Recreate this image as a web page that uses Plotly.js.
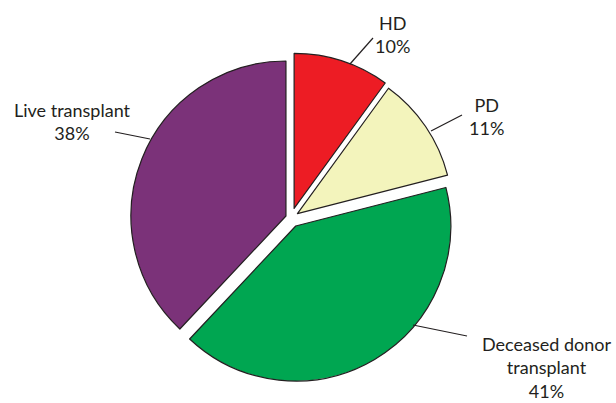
<!DOCTYPE html>
<html>
<head>
<meta charset="utf-8">
<script src="https://cdn.plot.ly/plotly-3.0.1.min.js"></script>
<style>html,body{margin:0;padding:0;background:#fff;}#chart{width:616px;height:403px;}</style>
</head>
<body>
<div id="chart"></div>
<script>
// ---- data ----
var categories = ['HD', 'PD', 'Deceased donor transplant', 'Live transplant'];
var percentValues = [10, 11, 41, 38];
var sliceColors = ['#ED1C24', '#F3F4BC', '#00A651', '#7B3279'];

// ---- layout helpers ----
var W = 616, H = 403;
function px(x) { return x / W; }
function py(y) { return 1 - y / H; }

// pie geometry (pixels)
var cx = 291, cy = 218, r = 155;
var pulls = [0.065, 0.05, 0.06, 0.035];
var maxPull = Math.max.apply(null, pulls);
var rd = r * (1 + maxPull);
var domain = {
  x: [(cx - rd) / W, (cx + rd) / W],
  y: [1 - (cy + rd) / H, 1 - (cy - rd) / H]
};

// label placement (layout only): text-block centre and leader line ends, in px
var labelPos = [
  {x: 392.5, y: 34.5, l: [[373, 38], [350, 64]]},
  {x: 486.5, y: 116, l: [[462, 115], [431, 131]]},
  {x: 546, y: 367, l: [[467, 336], [413, 325]]},
  {x: 72, y: 121, l: [[115, 132], [150, 139]]}
];
var wrapAt = {'Deceased donor transplant': 'Deceased donor<br>transplant'};

var textColor = '#231F20';
var fontFam = 'Lato, "Open Sans", sans-serif';

var annotations = [];
var shapes = [];
categories.forEach(function (c, i) {
  var p = labelPos[i];
  annotations.push({
    xref: 'paper', yref: 'paper',
    x: px(p.x), y: py(p.y),
    xanchor: 'center', yanchor: 'middle',
    align: 'center',
    showarrow: false,
    text: (wrapAt[c] || c) + '<br>' + percentValues[i] + '%',
    font: {family: fontFam, size: 18, color: textColor}
  });
  shapes.push({
    type: 'line', xref: 'paper', yref: 'paper',
    x0: px(p.l[0][0]), y0: py(p.l[0][1]),
    x1: px(p.l[1][0]), y1: py(p.l[1][1]),
    line: {color: textColor, width: 1.2}
  });
});

var trace = {
  type: 'pie',
  labels: categories,
  values: percentValues,
  sort: false,
  direction: 'clockwise',
  rotation: 0,
  pull: pulls,
  textinfo: 'none',
  hoverinfo: 'label+percent',
  showlegend: false,
  domain: domain,
  marker: {colors: sliceColors, line: {color: textColor, width: 1.2}}
};

var layout = {
  width: W, height: H,
  margin: {l: 0, r: 0, t: 0, b: 0},
  paper_bgcolor: '#ffffff',
  plot_bgcolor: '#ffffff',
  showlegend: false,
  annotations: annotations,
  shapes: shapes
};

Plotly.newPlot('chart', [trace], layout, {displayModeBar: false, staticPlot: true});
</script>
</body>
</html>
